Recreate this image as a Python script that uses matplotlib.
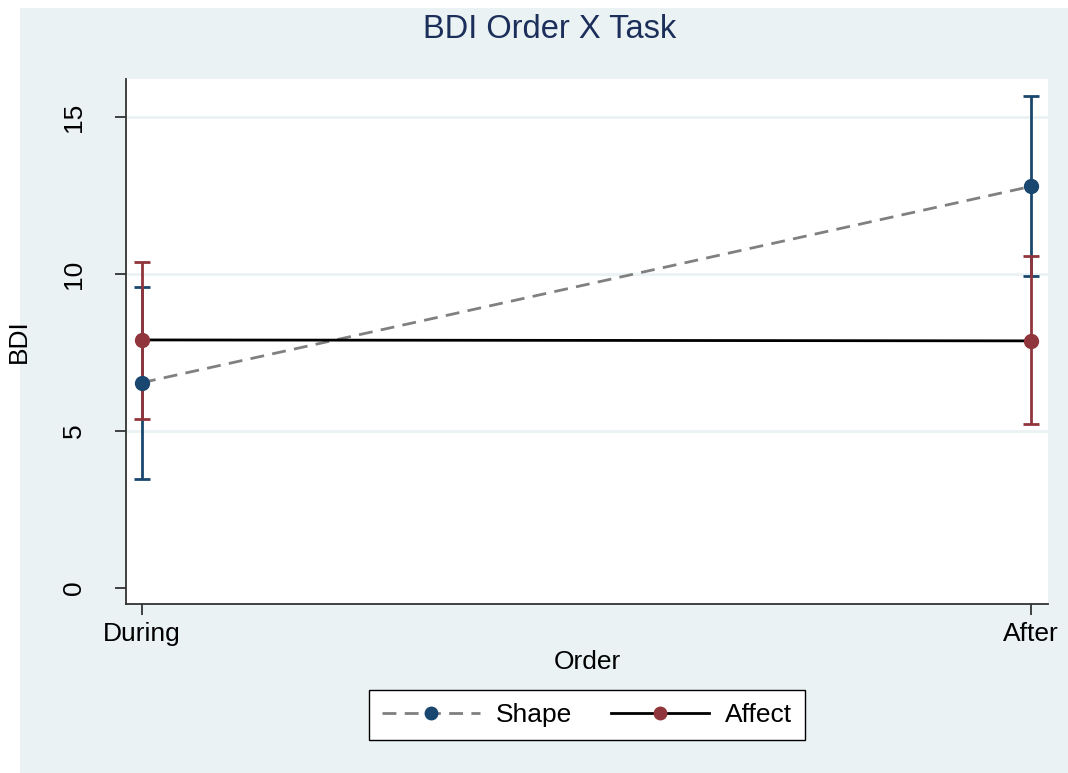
import matplotlib
matplotlib.use('Agg')
from matplotlib import pyplot as plt
from matplotlib.patches import Rectangle

plt.rcParams['font.family'] = ['Liberation Sans', 'DejaVu Sans']

# Data
order = ['During', 'After']
xpos = [0, 1]

shape_mean = [6.54, 12.79]
shape_lo = [3.47, 9.95]
shape_hi = [9.59, 15.67]

affect_mean = [7.90, 7.87]
affect_lo = [5.38, 5.21]
affect_hi = [10.39, 10.56]

yticks = [0, 5, 10, 15]

navy = '#1a476f'
maroon = '#90353b'
bg = '#eaf2f3'

fig = plt.figure(figsize=(10.68, 7.73), dpi=100)
fig.patch.set_facecolor('white')
fig.patches.append(Rectangle((20 / 1068, 0), 1 - 20 / 1068, 1 - 8 / 773,
                             transform=fig.transFigure, facecolor=bg,
                             edgecolor='none', zorder=-5))

ax = fig.add_axes([126 / 1068, 1 - 604 / 773, 922 / 1068, 525 / 773])
ax.set_facecolor('white')

# grid lines
for y in yticks[1:]:
    ax.axhline(y, color=bg, lw=2, zorder=1)

# confidence intervals
def ci(lo, hi, mean, color):
    err = [[m - l for m, l in zip(mean, lo)], [h - m for m, h in zip(mean, hi)]]
    ax.errorbar(xpos, mean, yerr=err, fmt='none', ecolor=color,
                elinewidth=2, capsize=6, capthick=2, zorder=2)

ci(shape_lo, shape_hi, shape_mean, navy)
ci(affect_lo, affect_hi, affect_mean, maroon)

# means
l1, = ax.plot(xpos, shape_mean, color='#808080', ls=(0, (5, 3)), lw=2,
              marker='o', markersize=10, markerfacecolor=navy,
              markeredgecolor=navy, zorder=3, label='Shape')
l2, = ax.plot(xpos, affect_mean, color='black', lw=2,
              marker='o', markersize=10, markerfacecolor=maroon,
              markeredgecolor=maroon, zorder=3, label='Affect')

ax.set_xlim(-0.018, 1.019)
ax.set_ylim(-0.51, 16.21)
ax.set_xticks(xpos)
ax.set_xticklabels(order)
ax.set_yticks(yticks)
ax.set_yticklabels([str(v) for v in yticks], rotation=90, va='center')

for s in ['top', 'right']:
    ax.spines[s].set_visible(False)
for s in ['left', 'bottom']:
    ax.spines[s].set_color('#333333')
    ax.spines[s].set_linewidth(1.3)

ax.tick_params(axis='both', colors='#333333', labelcolor='black',
               labelsize=19, length=8, width=1.3)
ax.tick_params(axis='x', pad=5)
ax.tick_params(axis='y', pad=21)

ax.set_xlabel('Order', fontsize=19, labelpad=3)
ax.set_ylabel('BDI', fontsize=19, labelpad=22)

fig.text(550 / 1068, 1 - 29 / 773, 'BDI Order X Task', fontsize=23.5,
         color='#1c2e5a', ha='center', va='center')

leg = ax.legend(handles=[l1, l2], loc='upper center', bbox_to_anchor=(0.5, -0.164),
                ncol=2, fontsize=19, frameon=True, fancybox=False, framealpha=1,
                handlelength=3.7, columnspacing=1.5, handletextpad=0.6,
                borderpad=0.5, borderaxespad=0, markerscale=0.9)
leg.get_frame().set_edgecolor('black')
leg.get_frame().set_linewidth(1.0)

fig.savefig('out.png', dpi=100, facecolor=fig.get_facecolor())
